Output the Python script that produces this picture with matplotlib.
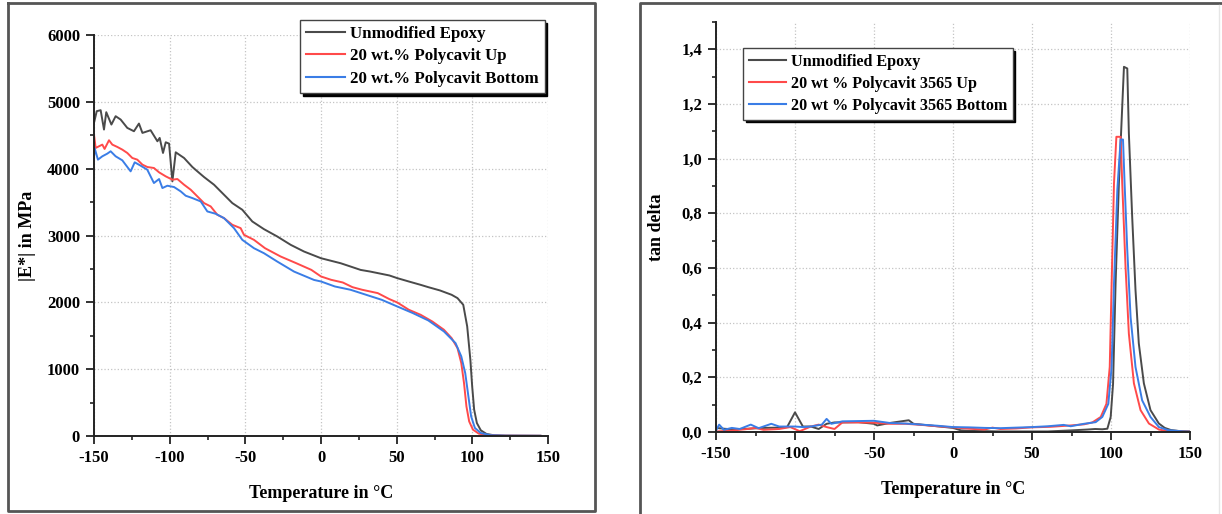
import matplotlib
matplotlib.use('Agg')
import matplotlib.pyplot as plt
from matplotlib.lines import Line2D

plt.rcParams['font.family'] = ['Liberation Serif', 'DejaVu Serif']
plt.rcParams['font.weight'] = 'bold'
plt.rcParams['axes.unicode_minus'] = False

# |E*| in MPa vs temperature
t_e_epoxy = [-150, -148.2, -145.6, -143.4, -141.9, -138.5, -135.7, -132.4, -128, -123.6,
             -120.3, -118, -112.6, -108.1, -106.6, -104.4, -102.6, -100.4, -98.2, -96,
             -90.5, -85, -81.7, -77.3, -70.7, -64.1, -58.6, -52, -45.4, -37.7,
             -28.9, -20, -11.2, 0, 13, 19.5, 26.2, 32.4, 45.2, 50.4,
             58, 65.8, 70.9, 78.6, 86.3, 90.2, 94, 96.6, 98.7, 99.9,
             101.2, 103, 105.6, 109.4, 114.6, 122, 145]
e_epoxy = [4685, 4860, 4875, 4585, 4845, 4660, 4785, 4735, 4610, 4560,
           4675, 4535, 4575, 4410, 4460, 4235, 4395, 4375, 3810, 4245,
           4160, 4025, 3960, 3875, 3760, 3610, 3485, 3385, 3210, 3095,
           2985, 2860, 2760, 2660, 2585, 2536, 2485, 2461, 2402, 2362,
           2312, 2262, 2227, 2178, 2113, 2063, 1963, 1640, 1141, 742,
           394, 194, 85, 30, 10, 5, 3]

t_e_up = [-150, -148.9, -146.7, -144.5, -143, -140.1, -137.9, -134.6, -131.3, -128,
          -124.7, -121.4, -118, -114.8, -110.4, -107, -102.6, -98.2, -94.9, -90.5,
          -86.1, -82.8, -77.3, -72.9, -68.5, -64.1, -58.6, -53.1, -50.9, -44.3,
          -37, -26.7, -16.4, -6.4, 0, 6.7, 14.4, 20.8, 27.2, 37.5,
          45.2, 50.4, 58, 65.8, 73.5, 81.2, 86.3, 90.2, 92.7, 94.5,
          96.1, 97.9, 100.4, 104.3, 109.4, 119.7, 145]
e_up = [4510, 4310, 4335, 4360, 4295, 4425, 4360, 4325, 4285, 4235,
        4160, 4135, 4060, 4025, 4010, 3945, 3885, 3835, 3845, 3760,
        3685, 3610, 3485, 3435, 3310, 3260, 3160, 3110, 3010, 2935,
        2810, 2686, 2586, 2486, 2387, 2337, 2297, 2227, 2188, 2138,
        2048, 1998, 1889, 1814, 1714, 1590, 1465, 1315, 1091, 792,
        443, 219, 95, 35, 15, 5, 3]

t_e_bottom = [-150, -149.6, -147.4, -144.5, -141.2, -139, -135.7, -131.3, -125.8, -123.1,
              -119.2, -114.8, -110.4, -107, -104.8, -101.5, -97.1, -92.7, -89.4, -85,
              -79.5, -75.1, -69.6, -64.1, -57.5, -52, -44.3, -37.7, -28.9, -17.8,
              -4.6, 0, 9.2, 19.5, 29.8, 40.1, 50.4, 60.7, 70.9, 81.2,
              88.9, 92.7, 95.3, 97.4, 99.2, 101.7, 105.6, 112, 122, 145]
e_bottom = [4160, 4310, 4135, 4185, 4225, 4260, 4185, 4125, 3960, 4095,
            4045, 3985, 3785, 3845, 3710, 3745, 3725, 3660, 3595, 3560,
            3510, 3360, 3325, 3260, 3110, 2935, 2810, 2735, 2610, 2460,
            2335, 2312, 2237, 2188, 2113, 2038, 1938, 1839, 1729, 1565,
            1390, 1191, 942, 593, 294, 120, 45, 12, 5, 3]

# tan delta vs temperature
t_d_epoxy = [-150, -145, -140, -130, -120, -110, -105, -100, -95, -90,
             -85, -80, -75, -70, -60, -50, -48, -40, -28, -25,
             -20, -10, 0, 5, 10, 20, 30, 40, 60, 75,
             85, 90, 94.5, 97.7, 99.8, 101.3, 102.9, 105, 108.2, 110.3,
             111.3, 113.4, 115.5, 117.6, 120.8, 125, 130.3, 134, 138, 144, 150]
d_epoxy = [0.015, 0.012, 0.01, 0.012, 0.015, 0.016, 0.018, 0.072, 0.02, 0.02,
           0.011, 0.03, 0.035, 0.035, 0.036, 0.03, 0.024, 0.033, 0.043, 0.03,
           0.027, 0.021, 0.015, 0.006, 0.004, 0.003, 0.002, 0.002, 0.002, 0.006,
           0.009, 0.011, 0.01, 0.012, 0.055, 0.176, 0.543, 0.91, 1.336, 1.33,
           1.094, 0.788, 0.52, 0.324, 0.178, 0.08, 0.031, 0.015, 0.007, 0.003, 0.002]

t_d_up = [-150, -140, -130, -125, -120, -110, -103, -97, -90, -85,
          -80, -75, -70, -60, -50, -40, -30, -20, -10, 0,
          10, 20, 25, 30, 40, 50, 61.8, 74.5, 82.9, 88.2,
          93.5, 97.1, 99.2, 100.4, 101.9, 103.4, 106.1, 107.1, 109.2, 111.3,
          114.5, 118.7, 124, 130.3, 136, 150]
d_up = [0.002, 0.005, 0.011, 0.015, 0.008, 0.011, 0.018, 0.003, 0.02, 0.027,
        0.018, 0.011, 0.035, 0.035, 0.034, 0.03, 0.03, 0.026, 0.021, 0.017,
        0.012, 0.009, 0.016, 0.011, 0.013, 0.017, 0.019, 0.024, 0.028, 0.035,
        0.055, 0.103, 0.238, 0.543, 0.91, 1.08, 1.08, 0.91, 0.604, 0.36,
        0.178, 0.08, 0.031, 0.009, 0.003, 0.001]

t_d_bottom = [-150, -148, -145, -140, -135, -128, -123, -115, -110, -100,
              -95, -90, -83, -80, -77, -70, -60, -50, -40, -30,
              -20, -10, 0, 10, 20, 30, 40, 50, 60, 70,
              74.5, 82.9, 90.3, 94.5, 98.3, 100.4, 101.9, 104, 106.1, 107.6,
              108.6, 110.3, 112.4, 115.5, 119.7, 125, 130.3, 136, 146, 150]
d_bottom = [0.005, 0.027, 0.008, 0.015, 0.011, 0.027, 0.014, 0.03, 0.02, 0.02,
            0.018, 0.02, 0.027, 0.048, 0.03, 0.039, 0.04, 0.041, 0.033, 0.031,
            0.027, 0.023, 0.018, 0.017, 0.015, 0.014, 0.016, 0.018, 0.021, 0.026,
            0.021, 0.03, 0.036, 0.055, 0.103, 0.238, 0.543, 0.886, 1.07, 1.07,
            0.91, 0.665, 0.42, 0.238, 0.116, 0.055, 0.018, 0.007, 0.002, 0.001]

left_labels = ['Unmodified Epoxy', '20 wt.% Polycavit Up', '20 wt.% Polycavit Bottom']
right_labels = ['Unmodified Epoxy', '20 wt % Polycavit 3565 Up', '20 wt % Polycavit 3565 Bottom']
tan_ticks = [0.0, 0.2, 0.4, 0.6, 0.8, 1.0, 1.2, 1.4]
tan_tick_labels = ['0,0', '0,2', '0,4', '0,6', '0,8', '1,0', '1,2', '1,4']
t_ticks = [-150, -100, -50, 0, 50, 100, 150]

c_black = '#4a4a4a'
c_red = '#ff4a4a'
c_blue = '#3a7de6'

W, H = 1222, 514
fig = plt.figure(figsize=(W / 100, H / 100), dpi=100)

def fx(px):
    return px / W

def fy(py):
    return 1 - py / H

# panel frames
frame_kw = dict(color='#555555', lw=2.0, transform=fig.transFigure)
fig.add_artist(Line2D([fx(8), fx(595), fx(595), fx(8), fx(8)],
                      [fy(3), fy(3), fy(511), fy(511), fy(3)], **frame_kw))
fig.add_artist(Line2D([fx(640), fx(640), fx(1222)], [fy(514), fy(3), fy(3)], **frame_kw))
fig.add_artist(Line2D([fx(1219), fx(1219)], [fy(5), fy(514)], color='#e6e6e6', lw=1.0,
                      transform=fig.transFigure))

ax1 = fig.add_axes([fx(94), fy(436), fx(548) - fx(94), fy(35) - fy(436)])
ax2 = fig.add_axes([fx(716), fy(432), fx(1190) - fx(716), fy(22) - fy(432)])

lw = 1.4
ax1.plot(t_e_epoxy, e_epoxy, color=c_black, lw=lw, label=left_labels[0])
ax1.plot(t_e_up, e_up, color=c_red, lw=lw, label=left_labels[1])
ax1.plot(t_e_bottom, e_bottom, color=c_blue, lw=lw, label=left_labels[2])

ax2.plot(t_d_epoxy, d_epoxy, color=c_black, lw=lw, label=right_labels[0])
ax2.plot(t_d_up, d_up, color=c_red, lw=lw, label=right_labels[1])
ax2.plot(t_d_bottom, d_bottom, color=c_blue, lw=lw, label=right_labels[2])

ax1.set_xlim(-150, 150)
ax1.set_ylim(0, 6000)
ax1.set_yticks(range(0, 6001, 1000))
ax1.set_yticks(range(500, 6000, 1000), minor=True)
ax2.set_xlim(-150, 150)
ax2.set_ylim(0, 1.5)
ax2.set_yticks(tan_ticks)
ax2.set_yticklabels(tan_tick_labels)
ax2.set_yticks([0.1, 0.3, 0.5, 0.7, 0.9, 1.1, 1.3, 1.5], minor=True)

for ax in (ax1, ax2):
    ax.set_xticks(t_ticks)
    ax.set_xticks([-125, -75, -25, 25, 75, 125], minor=True)
    for s in ('top', 'right'):
        ax.spines[s].set_visible(False)
    for s in ('left', 'bottom'):
        ax.spines[s].set_linewidth(1.4)
        ax.spines[s].set_color('#222222')
    ax.tick_params(which='major', direction='out', length=6, width=1.3, labelsize=12,
                   color='#222222', pad=4)
    ax.tick_params(which='minor', direction='out', length=3, width=1.2, color='#222222')
    ax.grid(True, which='major', linestyle=':', color='#c4c4c4', lw=0.9)
    ax.set_axisbelow(True)
    for lbl in ax.get_xticklabels() + ax.get_yticklabels():
        lbl.set_fontweight('bold')
    ax.set_xlabel('Temperature in °C', fontsize=13, fontweight='bold', labelpad=14)

ax1.set_ylabel('|E*| in MPa', fontsize=13, fontweight='bold', labelpad=8)
ax2.set_ylabel('tan delta', fontsize=13, fontweight='bold', labelpad=12)

leg_kw = dict(loc='upper left', fancybox=False, framealpha=1,
              edgecolor='#444444', handlelength=2.3, handletextpad=0.3,
              labelspacing=0.38, borderpad=0.35, borderaxespad=0,
              shadow={'color': 'black', 'alpha': 1})
leg1 = ax1.legend(bbox_to_anchor=(fx(300), fy(20)), bbox_transform=fig.transFigure,
                  prop={'weight': 'bold', 'size': 12.2}, **leg_kw)
leg2 = ax2.legend(bbox_to_anchor=(fx(743), fy(48)), bbox_transform=fig.transFigure,
                  prop={'weight': 'bold', 'size': 11.6}, **leg_kw)
for leg in (leg1, leg2):
    leg.get_frame().set_linewidth(1.0)
    for line in leg.get_lines():
        line.set_linewidth(1.5)

fig.savefig('out.png', dpi=100)
